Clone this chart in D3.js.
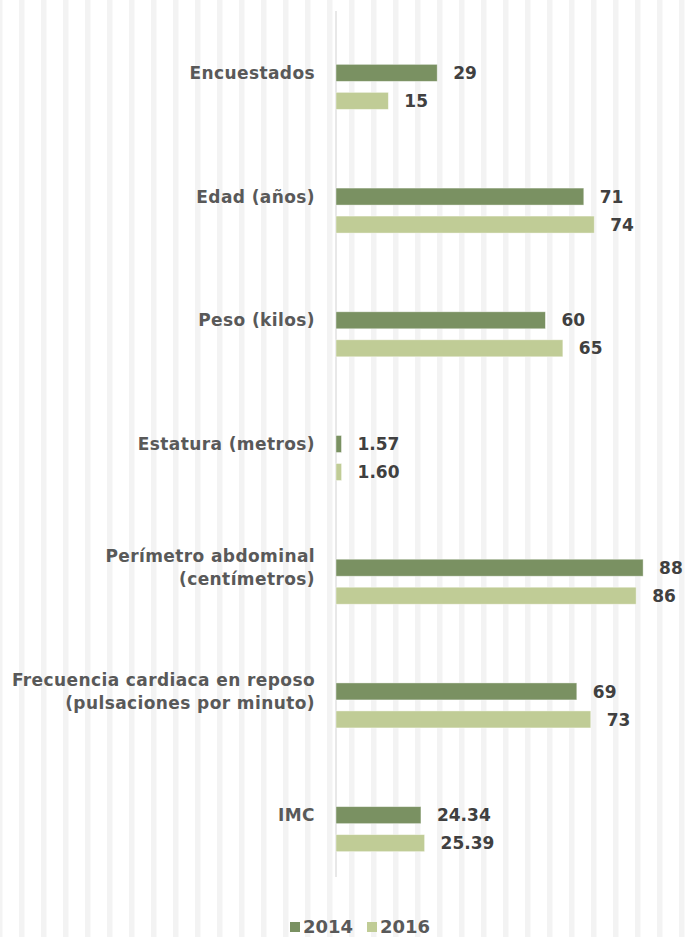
<!DOCTYPE html>
<html>
<head>
<meta charset="utf-8">
<script src="https://cdn.jsdelivr.net/npm/d3@7"></script>
<style>
  html, body { margin: 0; padding: 0; background: #fff; }
  svg { display: block; font-family: "DejaVu Sans", sans-serif; }
</style>
</head>
<body>
<div id="chart"></div>
<script>
const categories = [
  ['Encuestados'],
  ['Edad (años)'],
  ['Peso (kilos)'],
  ['Estatura (metros)'],
  ['Perímetro abdominal', '(centímetros)'],
  ['Frecuencia cardiaca en reposo', '(pulsaciones por minuto)'],
  ['IMC']
];
const values2014 = [29, 71, 60, 1.57, 88, 69, 24.34];
const values2016 = [15, 74, 65, 1.60, 86, 73, 25.39];
const seriesNames = ['2014', '2016'];
const seriesColors = ['#7a9162', '#c0cc96'];

const W = 686, H = 937;
const svg = d3.select('#chart').append('svg')
  .attr('width', W).attr('height', H)
  .attr('viewBox', `0 0 ${W} ${H}`);

// Striped background
const pat = svg.append('defs').append('pattern')
  .attr('id', 'stripes')
  .attr('patternUnits', 'userSpaceOnUse')
  .attr('x', 19).attr('y', 0)
  .attr('width', 22).attr('height', 10);
pat.append('rect').attr('width', 5.5).attr('height', 10).attr('fill', '#f3f3f3');
svg.append('rect').attr('width', W).attr('height', H).attr('fill', '#fff');
svg.append('rect').attr('width', W).attr('height', H).attr('fill', 'url(#stripes)');

const keys = d3.range(categories.length);
const x = d3.scaleLinear().domain([0, 100]).range([336, 685]);
const y = d3.scaleBand().domain(keys).range([11, 877]);
// three slots per category; first one is empty in the source chart
const slot = d3.scaleBand().domain(['', ...seriesNames])
  .range([-36.5, 36.5]).paddingInner(0.393);

const fmt = v => (v % 1 ? v.toFixed(2) : String(v));
const rows = keys.map(i => ({
  i, label: categories[i],
  vals: [values2014[i], values2016[i]]
}));

// Axis line
svg.append('line')
  .attr('x1', x(0)).attr('x2', x(0))
  .attr('y1', y.range()[0]).attr('y2', y.range()[1])
  .attr('stroke', '#d9d9d9').attr('stroke-width', 1.2);

const g = svg.selectAll('g.cat').data(rows).join('g')
  .attr('class', 'cat')
  .attr('transform', d => `translate(0,${y(d.i) + y.bandwidth() / 2})`);

// Category labels
g.append('text')
  .attr('x', 315)
  .attr('text-anchor', 'end')
  .attr('font-size', 17).attr('font-weight', 'bold')
  .attr('letter-spacing', 0.4)
  .attr('fill', '#595959')
  .selectAll('tspan').data(d => d.label.map((t, j) => ({ t, j, n: d.label.length })))
  .join('tspan')
  .attr('x', 315)
  .attr('y', l => (l.j - (l.n - 1) / 2) * 23)
  .attr('dy', '0.36em')
  .text(l => l.t);

// Bars
seriesNames.forEach((s, k) => {
  g.append('rect')
    .attr('x', x(0))
    .attr('y', slot(s))
    .attr('width', d => x(d.vals[k]) - x(0))
    .attr('height', slot.bandwidth())
    .attr('fill', seriesColors[k])
    .attr('stroke', '#fff').attr('stroke-opacity', 0.5).attr('stroke-width', 0.8);

  g.append('text')
    .attr('x', d => x(d.vals[k]) + 16)
    .attr('y', slot(s) + slot.bandwidth() / 2)
    .attr('dy', '0.36em')
    .attr('font-size', 17).attr('font-weight', 'bold')
    .attr('fill', '#404040')
    .text(d => fmt(d.vals[k]));
});

// Legend
const legend = svg.append('g').attr('transform', 'translate(290,927)');
const legX = [0, 77];
seriesNames.forEach((s, k) => {
  legend.append('rect')
    .attr('x', legX[k]).attr('y', -5)
    .attr('width', 10).attr('height', 10)
    .attr('fill', seriesColors[k]);
  legend.append('text')
    .attr('x', legX[k] + 13).attr('y', 0).attr('dy', '0.36em')
    .attr('font-size', 18).attr('font-weight', 'bold')
    .attr('fill', '#595959')
    .text(s);
});
</script>
</body>
</html>
